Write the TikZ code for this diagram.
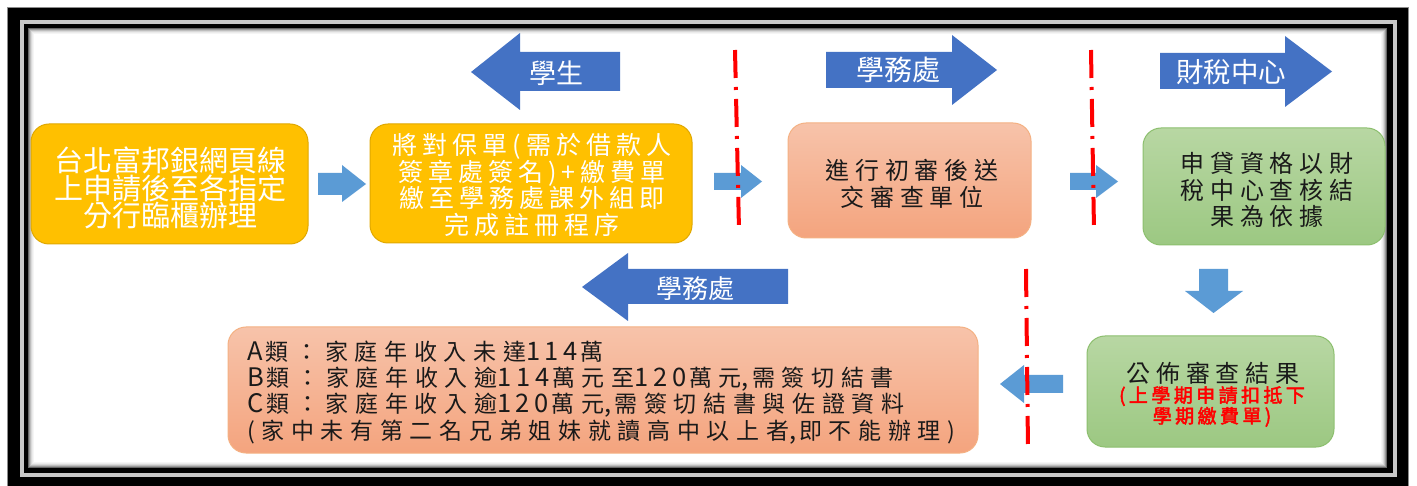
\documentclass[tikz,border=0pt]{standalone}
\usepackage{fontspec}
\newfontfamily\cjk{Noto Sans CJK TC}
\newfontfamily\cjkls[LetterSpace=24]{Noto Sans CJK TC}
\newfontfamily\cjklt[LetterSpace=20]{Noto Sans CJK TC}
\newfontfamily\cjklw[LetterSpace=29]{Noto Sans CJK TC}
\newfontfamily\cjklat[LetterSpace=18]{Noto Sans CJK TC}
\newfontfamily\cjkred[LetterSpace=18,FakeBold=2.5]{Noto Sans CJK TC}
\newcommand{\latn}[1]{{\cjklat\fontsize{25.5}{26.3}\selectfont #1}\hspace{3pt}}
\definecolor{yel}{HTML}{FFC000}
\definecolor{yelb}{HTML}{E0A800}
\definecolor{salt}{HTML}{F7C3AA}
\definecolor{salb}{HTML}{F4A47E}
\definecolor{salr}{HTML}{F4B183}
\definecolor{grt}{HTML}{B8D7A3}
\definecolor{grb}{HTML}{9CC882}
\definecolor{grr}{HTML}{8CBF6E}
\definecolor{bigblue}{HTML}{4472C4}
\definecolor{smblue}{HTML}{5B9BD5}
\definecolor{redl}{HTML}{FF0000}
\definecolor{framegray}{HTML}{C8C8C8}
\definecolor{txt}{HTML}{1A1A1A}
\begin{document}
\begin{tikzpicture}[x=1pt,y=-1pt,
  box/.style={rounded corners=18pt, line width=1pt, inner sep=0pt},
  yelbox/.style={box, fill=yel, draw=yelb},
  salbox/.style={box, top color=salt, bottom color=salb, draw=salr},
  grbox/.style={box, top color=grt, bottom color=grb, draw=grr},
  bigarrow/.style={fill=bigblue},
  smallarrow/.style={fill=smblue},
  redline/.style={draw=redl, line width=4pt, dash pattern=on 28pt off 9pt on 3pt off 9pt},
  arrowtext/.style={text=white, inner sep=0pt},
  boxtext/.style={inner sep=0pt, align=center}
]
\useasboundingbox (0,0) rectangle (1417,486);
\fill[white] (0,0) rectangle (1417,486);
% frame
\fill[black!45] (7,7) rectangle (1409,486);
\fill[black] (8,8) rectangle (1408,486);
\fill[framegray] (20,20) rectangle (1397,477);
\fill[black] (24,24) rectangle (1393,473);
\fill[white] (28,28) rectangle (1387,468);
\foreach \i/\c in {0.5/60,1.5/40,2.5/26,3.5/15,4.5/8,5.5/4}
  \draw[black!\c, line width=1pt] ({28+\i},{28+\i}) rectangle ({1387-\i},{468-\i});

% boxes
\node[yelbox, minimum width=277pt, minimum height=120pt] (b1) at (169.5,184) {};
\node[yelbox, minimum width=322pt, minimum height=119pt] (b2) at (531,183.5) {};
\node[salbox, minimum width=243pt, minimum height=115pt] (b3) at (909.5,180.5) {};
\node[grbox, minimum width=242pt, minimum height=117pt] (b4) at (1264,186.5) {};
\node[grbox, minimum width=247pt, minimum height=111pt] (b5) at (1210.5,391.5) {};
\node[salbox, minimum width=750pt, minimum height=126pt] (b6) at (603,390) {};

% box texts
\node[boxtext, text=white, font=\cjk\fontsize{29}{27.5}\selectfont] (t1) at (170,188)
  {台北富邦銀網頁線\\上申請後至各指定\\分行臨櫃辦理};
\node[boxtext, text=white, font=\cjklt\fontsize{25}{26.7}\selectfont] (t2) at (532,185)
  {將對保單(需於借款人\\簽章處簽名)+繳費單\\繳至學務處課外組即\\完成註冊程序};
\node[boxtext, text=txt, font=\cjkls\fontsize{24}{27}\selectfont] (t3) at (912,183.5)
  {進行初審後送\\交審查單位};
\node[boxtext, text=txt, font=\cjkls\fontsize{24}{26.5}\selectfont] (t4) at (1267,190)
  {申貸資格以財\\稅中心查核結\\果為依據};
\node[boxtext, text=txt, font=\cjkls\fontsize{24}{27}\selectfont] (t5a) at (1213,373)
  {公佈審查結果};
\node[boxtext, text=redl, font=\cjkred\fontsize{19}{19}\selectfont] (t5b) at (1212,406.5)
  {(上學期申請扣抵下\\學期繳費單)};
\node[inner sep=0pt, align=left, anchor=west, text=txt, font=\cjklw\fontsize{23}{26.3}\selectfont] (t6) at (247,392.5)
  {\latn{A}類：家庭年收入未達\latn{114}萬\\
   \latn{B}類：家庭年收入逾\latn{114}萬元至\latn{120}萬元\latn{,}需簽切結書\\
   \latn{C}類：家庭年收入逾\latn{120}萬元\latn{,}需簽切結書與佐證資料\\
   (家中未有第二名兄弟姐妹就讀高中以上者\latn{,}即不能辦理)};

% big arrows
\fill[bigarrow] (471,72) -- (520,33) -- (520,52) -- (620,52) -- (620,91) -- (520,91) -- (520,110) -- cycle;
\fill[bigarrow] (826,52) -- (952,52) -- (952,35) -- (997,70) -- (952,105) -- (952,88) -- (826,88) -- cycle;
\fill[bigarrow] (1160,53) -- (1285,53) -- (1285,36) -- (1332,71.5) -- (1285,107) -- (1285,89) -- (1160,89) -- cycle;
\fill[bigarrow] (582,287) -- (628,253) -- (628,269) -- (788,269) -- (788,304) -- (628,304) -- (628,321) -- cycle;
\node[arrowtext, font=\cjk\fontsize{27}{27}\selectfont] (a1) at (556,73) {學生};
\node[arrowtext, font=\cjk\fontsize{28}{28}\selectfont] (a2) at (898,70) {學務處};
\node[arrowtext, font=\cjk\fontsize{27.5}{27.5}\selectfont] (a3) at (1231,72) {財稅中心};
\node[arrowtext, font=\cjk\fontsize{26}{26}\selectfont] (a4) at (695,289) {學務處};

% small arrows
\fill[smallarrow] (318,173) -- (342,173) -- (342,165) -- (366,184) -- (342,202) -- (342,195) -- (318,195) -- cycle;
\fill[smallarrow] (714,173) -- (741,173) -- (741,165) -- (762,181.5) -- (741,198) -- (741,190) -- (714,190) -- cycle;
\fill[smallarrow] (1070,173) -- (1096,173) -- (1096,165) -- (1118,181.5) -- (1096,198) -- (1096,190) -- (1070,190) -- cycle;
\fill[smallarrow] (1199,269) -- (1228,269) -- (1228,291) -- (1243,291) -- (1213.5,313) -- (1185,291) -- (1199,291) -- cycle;
\fill[smallarrow] (1000,384) -- (1024,365) -- (1024,375) -- (1063,375) -- (1063,393) -- (1024,393) -- (1024,403) -- cycle;

% red dash-dot separators
\coordinate (r1a) at (735,50);  \coordinate (r1b) at (739,230);
\coordinate (r2a) at (1091,50); \coordinate (r2b) at (1094,230);
\coordinate (r3a) at (1026,269); \coordinate (r3b) at (1028,450);
\draw[redline] (r1a) -- (r1b);
\draw[redline] (r2a) -- (r2b);
\draw[redline] (r3a) -- (r3b);
\end{tikzpicture}
\end{document}
